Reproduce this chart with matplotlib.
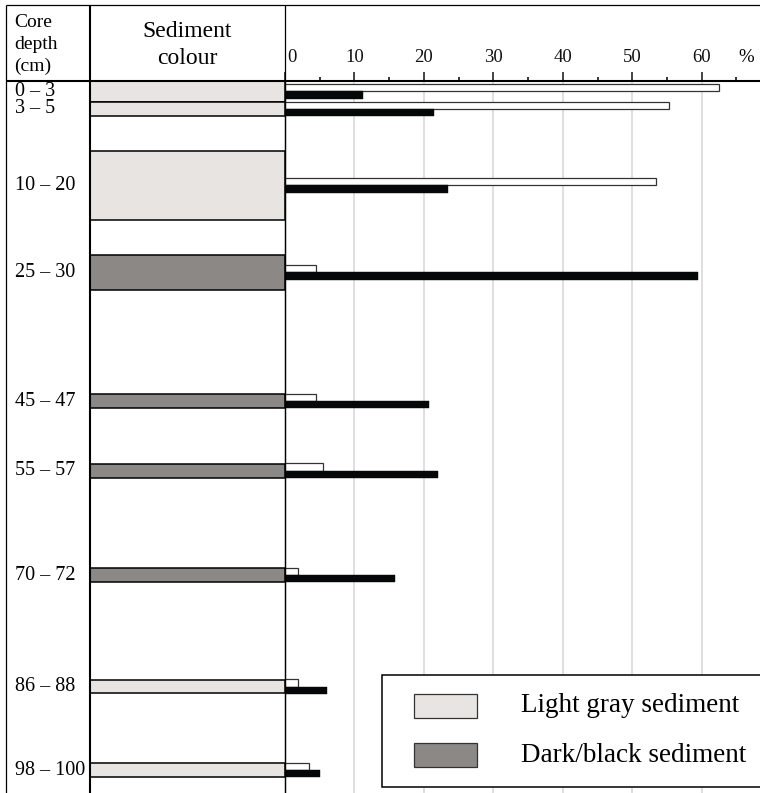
import matplotlib
matplotlib.use("Agg")
import matplotlib.pyplot as plt
from matplotlib.lines import Line2D
from matplotlib.patches import Rectangle
from matplotlib.transforms import ScaledTranslation
import numpy as np

plt.rcParams['font.family'] = ['Liberation Serif', 'DejaVu Serif']

# ---------------- data ----------------
depth_labels = ["0 – 3", "3 – 5", "10 – 20", "25 – 30", "45 – 47",
                "55 – 57", "70 – 72", "86 – 88", "98 – 100"]
depth_top = [0, 3, 10, 25, 45, 55, 70, 86, 98]
depth_bottom = [3, 5, 20, 30, 47, 57, 72, 88, 100]
sediment_type = ["light", "light", "light", "dark", "dark",
                 "dark", "dark", "light", "light"]
white_values = [62.5, 55.3, 53.4, 4.5, 4.5, 5.4, 1.8, 1.8, 3.5]
black_values = [11.3, 21.4, 23.5, 59.5, 20.7, 22.1, 15.8, 6.1, 5.0]
x_ticks = [0, 10, 20, 30, 40, 50, 60]
legend_labels = ["Light gray sediment", "Dark/black sediment"]

LIGHT = "#e7e4e1"
DARK = "#8c8885"
BLACK = "#050808"

W, H = 760, 793
fig = plt.figure(figsize=(W / 100, H / 100), dpi=100)


def fx(x):
    return x / W


def fy(y):
    return 1 - y / H


Y0 = 81          # pixel row of depth 0
PX_CM = 6.96     # pixels per cm depth
PX_PCT = 6.945   # pixels per percent
ymax = (H - Y0) / PX_CM

# --- bar axes ---
ax = fig.add_axes([fx(285), 0, (W - 285) / W, (H - Y0) / H])
ax.set_xlim(0, (W - 285) / PX_PCT)
ax.set_ylim(ymax, 0)

centers = (np.array(depth_top) + np.array(depth_bottom)) / 2
bh = 1.05
ax.barh(centers - bh / 2, white_values, height=bh, color="white",
        edgecolor="#333333", linewidth=0.9, zorder=3)
ax.barh(centers + bh / 2, black_values, height=bh, color=BLACK,
        edgecolor=BLACK, linewidth=0.3, zorder=3)

ax.xaxis.tick_top()
ax.set_xticks(x_ticks)
ax.set_xticklabels([str(t) for t in x_ticks])
ax.set_xticks([t + 5 for t in x_ticks], minor=True)
ax.tick_params(axis="x", which="major", direction="out", length=6.5,
               width=1.1, pad=4, labelsize=13.5, colors="#111111")
ax.tick_params(axis="x", which="minor", direction="out", length=3,
               width=1.1)
ax.set_yticks([])
ax.grid(axis="x", which="major", color="#d9d9d9", linewidth=1.2, zorder=0)
for s in ["right", "bottom"]:
    ax.spines[s].set_visible(False)
ax.spines["top"].set_linewidth(1.4)
ax.spines["left"].set_linewidth(0.9)
# nudge the "0" label off the vertical divider
lab0 = ax.get_xticklabels()[0]
lab0.set_transform(lab0.get_transform() +
                   ScaledTranslation(7 / 100, 0, fig.dpi_scale_trans))

# --- sediment column ---
axs = fig.add_axes([fx(90), 0, 195 / W, (H - Y0) / H])
axs.set_xlim(0, 1)
axs.set_ylim(ymax, 0)
axs.axis("off")
for t, b, kind in zip(depth_top, depth_bottom, sediment_type):
    axs.add_patch(Rectangle((0, t), 1, b - t,
                            facecolor=LIGHT if kind == "light" else DARK,
                            edgecolor="black", linewidth=1.1, clip_on=False))

# --- depth labels ---
axd = fig.add_axes([fx(6), 0, 84 / W, (H - Y0) / H])
axd.set_xlim(0, 84)
axd.set_ylim(ymax, 0)
axd.axis("off")
for lab, c in zip(depth_labels, centers):
    axd.text(9, c, lab, ha="left", va="center", fontsize=14.5)

# --- frame lines ---
lines = [
    ([6, W], [5, 5], 0.9),
    ([6, 6], [5, H], 0.9),
    ([6, W], [Y0, Y0], 1.5),
    ([90, 90], [5, H], 1.5),
    ([285, 285], [5, H], 0.9),
]
for xs, ys, lw in lines:
    fig.add_artist(Line2D([fx(v) for v in xs], [fy(v) for v in ys],
                          transform=fig.transFigure, color="black",
                          linewidth=lw, solid_capstyle="butt"))

# --- header text ---
for txt, yb in [("Core", 27), ("depth", 49), ("(cm)", 71)]:
    fig.text(fx(14), fy(yb), txt, ha="left", va="baseline", fontsize=14)
fig.text(fx(187), fy(37), "Sediment", ha="center", va="baseline",
         fontsize=17)
fig.text(fx(187), fy(64), "colour", ha="center", va="baseline",
         fontsize=17)
fig.text(fx(746), fy(58), "%", ha="center", va="center", fontsize=13.5)

# --- legend (manual box) ---
fig.add_artist(Rectangle((fx(382), fy(787)), fx(W + 10) - fx(382),
                         fy(675) - fy(787), transform=fig.transFigure,
                         facecolor="white", edgecolor="black", linewidth=1.1,
                         zorder=5))
for (y_top, col, lab) in [(694, LIGHT, legend_labels[0]),
                          (743, DARK, legend_labels[1])]:
    fig.add_artist(Rectangle((fx(414), fy(y_top + 24)), fx(477) - fx(414),
                             fy(y_top) - fy(y_top + 24),
                             transform=fig.transFigure, facecolor=col,
                             edgecolor="#333333", linewidth=0.9, zorder=6))
    fig.text(fx(521), fy(y_top + 12), lab, ha="left", va="center",
             fontsize=19.5, zorder=7)

fig.savefig("out.png", dpi=100)
